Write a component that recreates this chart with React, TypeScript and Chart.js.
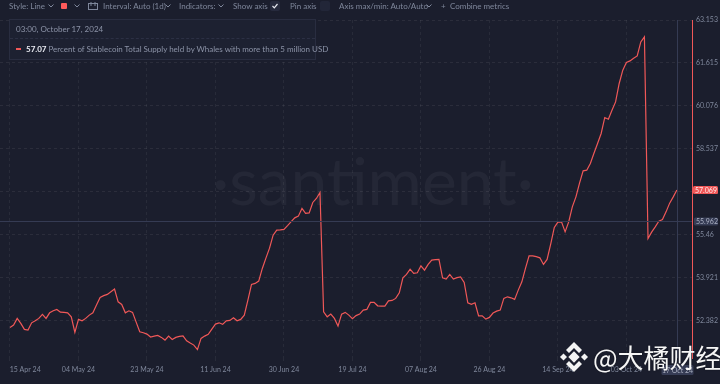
import { useEffect, useRef } from 'react';
import { Chart, registerables } from 'chart.js';

Chart.register(...registerables);

// ---- data ----
const startDate = '2024-04-15';
const values: number[] = [
  52.146, 52.228, 52.468, 52.289, 52.074, 52.049, 52.31, 52.382, 52.468, 52.611,
  52.468, 52.668, 52.74, 52.79, 52.693, 52.683, 52.668, 52.525, 51.967, 52.432,
  52.382, 52.468, 52.586, 52.668, 52.944, 53.219, 53.284, 53.327, 53.42, 53.517,
  53.062, 52.969, 52.668, 52.74, 52.683, 52.335, 51.988, 51.953, 51.906, 51.799,
  51.834, 51.859, 51.788, 51.691, 51.834, 51.716, 51.788, 51.824, 51.845, 51.666,
  51.584, 51.512, 51.351, 51.752, 51.834, 51.895, 52.085, 52.264, 52.31, 52.253,
  52.382, 52.396, 52.489, 52.382, 52.432, 52.586, 53.123, 53.685, 53.721, 53.803,
  54.257, 54.626, 54.984, 55.449, 55.628, 55.635, 55.653, 55.789, 55.932, 56.068,
  56.129, 56.405, 56.226, 56.247, 56.62, 56.763, 56.978, 52.704, 52.525, 52.622,
  52.468, 52.192, 52.622, 52.683, 52.586, 52.461, 52.568, 52.622, 52.765, 52.79,
  53.041, 53.041, 52.919, 52.908, 52.908, 53.098, 53.112, 53.184, 53.384, 53.921,
  54.043, 54.232, 54.078, 54.1, 54.35, 54.197, 54.401, 54.554, 54.572, 54.58,
  53.921, 53.874, 54.043, 53.874, 53.928, 53.957, 53.756, 53.026, 52.969, 53.026,
  52.561, 52.561, 52.443, 52.504, 52.658, 52.729, 52.765, 53.184, 53.241, 53.205,
  53.148, 53.481, 53.778, 54.257, 54.708, 54.708, 54.68, 54.637, 54.401, 54.58,
  55.127, 55.725, 55.915, 55.925, 55.567, 55.925, 56.462, 56.82, 57.31, 57.751,
  57.776, 58.016, 58.384, 58.731, 59.089, 59.662, 59.601, 59.923, 60.22, 60.879,
  61.355, 61.63, 61.688, 61.784, 61.867, 62.368, 62.547, 55.331, 55.557, 55.746,
  55.95, 56.011, 56.283, 56.595, 56.82, 57.069,
];
const xTickDays = [0, 19, 38, 57, 76, 95, 114, 133, 152, 171];
const xTickLabels = ['15 Apr 24', '04 May 24', '23 May 24', '11 Jun 24', '30 Jun 24', '19 Jul 24', '07 Aug 24', '26 Aug 24', '14 Sep 24', '03 Oct 24'];
const yTicks = [52.382, 53.921, 55.46, 56.998, 58.537, 60.076, 61.615, 63.153];
const crossValue = 55.962;
const crossDateLabel = '17 Oct 24';
const seriesName = 'Percent of Stablecoin Total Supply held by Whales with more than 5 million USD';
const tooltipDate = '03:00, October 17, 2024';

const BG = '#1b1e2d';
const RED = '#f05858';
const GRAY = '#7f879b';
const FONT = 'Lato, "Open Sans", sans-serif';

function roundRect(ctx: CanvasRenderingContext2D, x: number, y: number, w: number, h: number, r: number) {
  ctx.beginPath();
  ctx.moveTo(x + r, y);
  ctx.lineTo(x + w - r, y);
  ctx.quadraticCurveTo(x + w, y, x + w, y + r);
  ctx.lineTo(x + w, y + h - r);
  ctx.quadraticCurveTo(x + w, y + h, x + w - r, y + h);
  ctx.lineTo(x + r, y + h);
  ctx.quadraticCurveTo(x, y + h, x, y + h - r);
  ctx.lineTo(x, y + r);
  ctx.quadraticCurveTo(x, y, x + r, y);
  ctx.closePath();
}

const overlayPlugin = {
  id: 'overlay',
  beforeDatasetsDraw(chart: any) {
    const ctx: CanvasRenderingContext2D = chart.ctx;
    ctx.save();
    ctx.font = `400 66px ${FONT}`;
    ctx.fillStyle = 'rgba(255,255,255,0.045)';
    ctx.textAlign = 'center';
    ctx.textBaseline = 'alphabetic';
    ctx.fillText('·santiment·', 373, 205);
    ctx.restore();
  },
  afterDatasetsDraw(chart: any) {
    const ctx: CanvasRenderingContext2D = chart.ctx;
    const xs = chart.scales.x;
    const ys = chart.scales.y;
    const area = chart.chartArea;
    const lastI = values.length - 1;
    const px = Math.round(xs.getPixelForValue(lastI)) + 0.5;
    const py = Math.round(ys.getPixelForValue(crossValue)) + 0.5;
    ctx.save();
    ctx.strokeStyle = '#353b53';
    ctx.lineWidth = 1;
    ctx.beginPath();
    ctx.moveTo(px, area.top);
    ctx.lineTo(px, area.bottom);
    ctx.moveTo(area.left, py);
    ctx.lineTo(area.right, py);
    ctx.stroke();

    ctx.font = `7px ${FONT}`;
    ctx.textBaseline = 'middle';
    ctx.textAlign = 'left';
    // cross value label
    roundRect(ctx, area.right + 2, py - 4, 24, 8, 1.5);
    ctx.fillStyle = '#363c55';
    ctx.fill();
    ctx.fillStyle = '#aab0c2';
    ctx.fillText(String(crossValue), area.right + 4, py + 0.5);
    // last value label
    const ly = ys.getPixelForValue(values[lastI]);
    roundRect(ctx, area.right + 1, ly - 4, 25, 8, 1.5);
    ctx.fillStyle = RED;
    ctx.fill();
    ctx.fillStyle = '#ffe9e9';
    ctx.fillText(values[lastI].toFixed(3), area.right + 3, ly + 0.5);
    // cross date label
    ctx.textAlign = 'center';
    roundRect(ctx, px - 16, area.bottom + 7, 32, 10, 1.5);
    ctx.fillStyle = '#363c55';
    ctx.fill();
    ctx.fillStyle = '#aab0c2';
    ctx.fillText(crossDateLabel, px, area.bottom + 12.5);
    ctx.restore();
  },
};

function Chevron({ left }: { left: number }) {
  return (
    <svg style={{ position: 'absolute', left, top: 4 }} width={6} height={4} viewBox="0 0 6 4">
      <polyline points="0.5,0.5 3,3 5.5,0.5" fill="none" stroke={GRAY} strokeWidth={1} />
    </svg>
  );
}

function Txt({ left, children, color = GRAY }: { left: number; children: any; color?: string }) {
  return (
    <div style={{ position: 'absolute', left, top: 0, height: 12, lineHeight: '12px', fontSize: 8, color, whiteSpace: 'nowrap' }}>
      {children}
    </div>
  );
}

export default function App() {
  const ref = useRef<HTMLCanvasElement | null>(null);

  useEffect(() => {
    if (!ref.current) return;
    const chart = new Chart(ref.current, {
      type: 'line',
      data: {
        datasets: [
          {
            label: seriesName,
            data: values.map((v, i) => ({ x: i, y: v })),
            borderColor: RED,
            borderWidth: 1.2,
            pointRadius: 0,
            tension: 0,
            fill: false,
          },
        ],
      },
      options: {
        animation: false,
        responsive: false,
        devicePixelRatio: 1,
        layout: { padding: { top: 20, left: 0, right: 0, bottom: 0 } },
        plugins: { legend: { display: false }, tooltip: { enabled: false } },
        scales: {
          x: {
            type: 'linear',
            min: -2.77,
            max: 189.2,
            afterBuildTicks: (s: any) => {
              s.ticks = xTickDays.map((v) => ({ value: v }));
            },
            afterFit: (s: any) => {
              s.height = 26;
              s.paddingLeft = 0;
              s.paddingRight = 0;
            },
            ticks: {
              autoSkip: false,
              maxRotation: 0,
              padding: 5,
              color: GRAY,
              font: { family: FONT, size: 7 },
              callback: (v: any) => {
                const i = xTickDays.indexOf(Number(v));
                if (i < 0) return '';
                return i === 0 ? '\u00a0'.repeat(17) + xTickLabels[i] : xTickLabels[i];
              },
            },
            grid: { color: 'rgba(255,255,255,0.06)', drawTicks: true, tickLength: 3 },
            border: { display: false, dash: [3, 3] },
          },
          y: {
            type: 'linear',
            position: 'right',
            min: 51.05,
            max: 63.153,
            afterBuildTicks: (s: any) => {
              s.ticks = yTicks.map((v) => ({ value: v }));
            },
            afterFit: (s: any) => {
              s.width = 28;
              s.paddingTop = 0;
              s.paddingBottom = 0;
            },
            ticks: {
              padding: 4,
              color: GRAY,
              font: { family: FONT, size: 7 },
              callback: (v: any) => String(Number(Number(v).toFixed(3))),
            },
            grid: { color: 'rgba(255,255,255,0.07)', drawTicks: false },
            border: { display: true, color: RED, width: 1, dash: [3, 3] },
          },
        },
      } as any,
      plugins: [overlayPlugin],
    });
    return () => chart.destroy();
  }, []);

  return (
    <div style={{ position: 'fixed', left: 0, top: 0, width: 720, height: 384, background: BG, overflow: 'hidden', fontFamily: FONT }}>
      <canvas ref={ref} width={720} height={384} style={{ position: 'absolute', left: 0, top: 0, width: 720, height: 384 }} />
      {/* toolbar */}
      <Txt left={9}>Style: Line</Txt>
      <Chevron left={48} />
      <div style={{ position: 'absolute', left: 61, top: 3, width: 6, height: 6, background: '#ff5b5b', borderRadius: 1 }} />
      <Chevron left={74} />
      <svg style={{ position: 'absolute', left: 88, top: 2 }} width={10} height={8} viewBox="0 0 10 8">
        <rect x={0.5} y={1.5} width={9} height={6} fill="none" stroke={GRAY} strokeWidth={1} />
        <line x1={3} y1={0} x2={3} y2={4} stroke={GRAY} strokeWidth={1} />
        <line x1={7} y1={0} x2={7} y2={4} stroke={GRAY} strokeWidth={1} />
      </svg>
      <Txt left={103}>Interval: Auto (1d)</Txt>
      <Chevron left={165} />
      <Txt left={179}>Indicators:</Txt>
      <Chevron left={218} />
      <Txt left={233}>Show axis</Txt>
      <div style={{ position: 'absolute', left: 270, top: 1, width: 10, height: 10, background: '#262a3d', borderRadius: 2 }}>
        <svg width={10} height={10} viewBox="0 0 10 10" style={{ position: 'absolute', left: 0, top: 0 }}>
          <polyline points="2.5,5 4.3,6.8 7.5,3" fill="none" stroke="#e6e8ef" strokeWidth={1.2} />
        </svg>
      </div>
      <Txt left={290}>Pin axis</Txt>
      <div style={{ position: 'absolute', left: 320, top: 1, width: 10, height: 10, background: '#222638', borderRadius: 2 }} />
      <Txt left={339}>Axis max/min: Auto/Auto</Txt>
      <Chevron left={426} />
      <Txt left={441}>+</Txt>
      <Txt left={450}>Combine metrics</Txt>

      {/* tooltip box */}
      <div style={{ position: 'absolute', left: 9, top: 19, width: 305, height: 39, border: '1px solid #292d40', background: '#1d2131' }}>
        <div style={{ position: 'absolute', left: 6, top: 3, fontSize: 8, lineHeight: '12px', color: '#8c93a7', whiteSpace: 'nowrap' }}>{tooltipDate}</div>
        <div style={{ position: 'absolute', left: 0, top: 18, width: 305, height: 0, borderTop: '1px dashed #2c3044' }} />
        <div style={{ position: 'absolute', left: 6, top: 28, width: 5, height: 1.5, background: RED }} />
        <div style={{ position: 'absolute', left: 16, top: 23, fontSize: 8, lineHeight: '12px', color: '#8c93a7', whiteSpace: 'nowrap' }}>
          <span style={{ color: '#e8eaf1', fontWeight: 700 }}>{values[values.length - 1].toFixed(2)}</span> {seriesName}
        </div>
      </div>

      {/* overlay watermark */}
      <svg style={{ position: 'absolute', left: 558, top: 341 }} width={32} height={32} viewBox="0 0 32 32">
        <g fill="#f4f4f4">
          <rect x={12} y={12} width={8} height={8} transform="rotate(45 16 16)" />
          <rect x={3} y={13.5} width={5} height={5} transform="rotate(45 5.5 16)" />
          <rect x={24} y={13.5} width={5} height={5} transform="rotate(45 26.5 16)" />
          <polygon points="16,1 24,9 21,12 16,7 11,12 8,9" />
          <polygon points="16,31 24,23 21,20 16,25 11,20 8,23" />
        </g>
      </svg>
      <div style={{ position: 'absolute', left: 593, top: 340, fontSize: 26, lineHeight: '34px', color: '#f6f6f6', fontFamily: '"Noto Sans CJK SC", sans-serif', whiteSpace: 'nowrap', textShadow: '0 0 2px rgba(0,0,0,0.4)' }}>
        @大橘财经
      </div>
    </div>
  );
}
